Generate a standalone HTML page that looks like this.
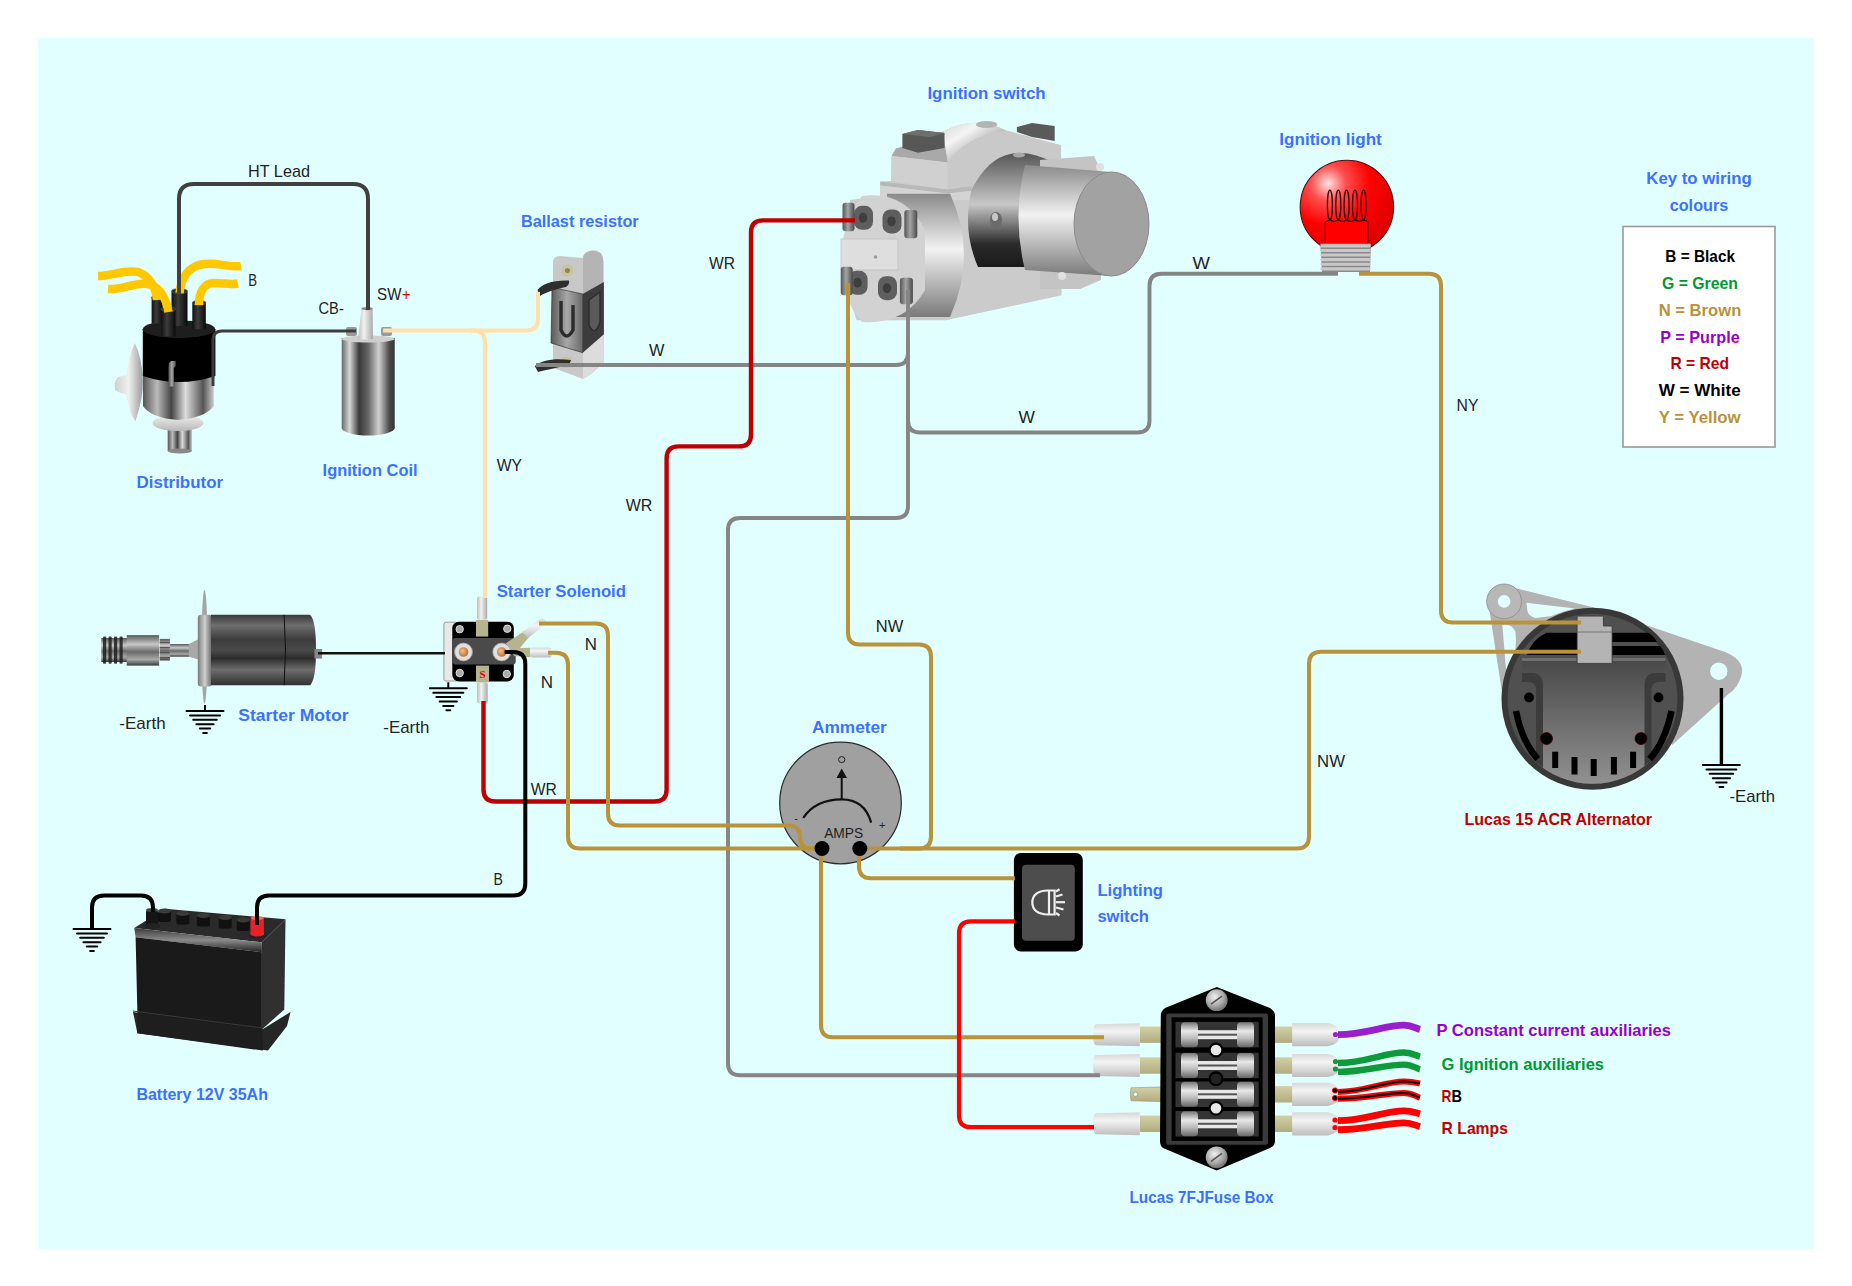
<!DOCTYPE html>
<html><head><meta charset="utf-8"><style>
html,body{margin:0;padding:0;background:#fff;width:1852px;height:1286px;overflow:hidden}
svg{display:block;font-family:"Liberation Sans",sans-serif}
</style></head><body>
<svg width="1852" height="1286" viewBox="0 0 1852 1286">
<rect x="38" y="38" width="1776" height="1211" fill="#E2FFFF"/>
<defs>
<linearGradient id="silverH" x1="0" x2="1" y1="0" y2="0">
 <stop offset="0" stop-color="#6a6a6a"/><stop offset="0.15" stop-color="#d8d8d8"/><stop offset="0.33" stop-color="#3a3a3a"/>
 <stop offset="0.5" stop-color="#666"/><stop offset="0.7" stop-color="#d0d0d0"/><stop offset="0.9" stop-color="#4a4a4a"/><stop offset="1" stop-color="#333"/>
</linearGradient>
<linearGradient id="silverH2" x1="0" x2="1" y1="0" y2="0">
 <stop offset="0" stop-color="#555"/><stop offset="0.2" stop-color="#bbb"/><stop offset="0.4" stop-color="#444"/>
 <stop offset="0.6" stop-color="#ddd"/><stop offset="0.85" stop-color="#555"/><stop offset="1" stop-color="#ccc"/>
</linearGradient>
<linearGradient id="silverV" x1="0" x2="0" y1="0" y2="1">
 <stop offset="0" stop-color="#8a8a8a"/><stop offset="0.45" stop-color="#f2f2f2"/><stop offset="1" stop-color="#7a7a7a"/>
</linearGradient>
<linearGradient id="darkV" x1="0" x2="0" y1="0" y2="1">
 <stop offset="0" stop-color="#3a3a3a"/><stop offset="0.15" stop-color="#6e6e6e"/><stop offset="0.35" stop-color="#3c3c3c"/>
 <stop offset="0.5" stop-color="#4a4a4a"/><stop offset="0.62" stop-color="#2c2c2c"/><stop offset="0.78" stop-color="#6e6e6e"/><stop offset="1" stop-color="#303030"/>
</linearGradient>
<linearGradient id="darkCyl" x1="0" x2="0" y1="0" y2="1">
 <stop offset="0" stop-color="#555"/><stop offset="0.45" stop-color="#c8c8c8"/><stop offset="0.8" stop-color="#2a2a2a"/><stop offset="1" stop-color="#1a1a1a"/>
</linearGradient>
<linearGradient id="towerG" x1="0" x2="1" y1="0" y2="0">
 <stop offset="0" stop-color="#111"/><stop offset="0.4" stop-color="#3c3c3c"/><stop offset="1" stop-color="#0a0a0a"/>
</linearGradient>
<linearGradient id="connG" x1="0" x2="0" y1="0" y2="1">
 <stop offset="0" stop-color="#d8d8d8"/><stop offset="0.35" stop-color="#f4f4f4"/><stop offset="1" stop-color="#bdbdbd"/>
</linearGradient>
<linearGradient id="connH" x1="0" x2="1" y1="0" y2="0">
 <stop offset="0" stop-color="#bbb"/><stop offset="0.4" stop-color="#f2f2f2"/><stop offset="1" stop-color="#aaa"/>
</linearGradient>
<linearGradient id="bladeG" x1="0" x2="0" y1="0" y2="1">
 <stop offset="0" stop-color="#d4d0a6"/><stop offset="1" stop-color="#b0ac80"/>
</linearGradient>
<linearGradient id="fuseCap" x1="0" x2="0" y1="0" y2="1">
 <stop offset="0" stop-color="#777"/><stop offset="0.35" stop-color="#e8e8e8"/><stop offset="0.65" stop-color="#bbb"/><stop offset="1" stop-color="#666"/>
</linearGradient>
<radialGradient id="bulbG" cx="0.3" cy="0.25" r="0.75">
 <stop offset="0" stop-color="#ffe0e0"/><stop offset="0.25" stop-color="#ff5050"/><stop offset="0.6" stop-color="#ff0000"/><stop offset="1" stop-color="#e00000"/>
</radialGradient>
<radialGradient id="copperG" cx="0.4" cy="0.4" r="0.6">
 <stop offset="0" stop-color="#f4c08a"/><stop offset="1" stop-color="#c07038"/>
</radialGradient>
<radialGradient id="screwG" cx="0.4" cy="0.35" r="0.7">
 <stop offset="0" stop-color="#f0f0f0"/><stop offset="0.6" stop-color="#a8a8a8"/><stop offset="1" stop-color="#666"/>
</radialGradient>
<linearGradient id="altInner" x1="0" x2="0" y1="0" y2="1">
 <stop offset="0" stop-color="#484848"/><stop offset="1" stop-color="#9a9a9a"/>
</linearGradient>
<linearGradient id="discG" x1="0" x2="1" y1="0" y2="0">
 <stop offset="0" stop-color="#cfcfcf"/><stop offset="0.5" stop-color="#f0f0f0"/><stop offset="1" stop-color="#9a9a9a"/>
</linearGradient>
<linearGradient id="ballastL" x1="0" x2="1" y1="0" y2="0">
 <stop offset="0" stop-color="#5a5a5a"/><stop offset="0.5" stop-color="#a8a8a8"/><stop offset="1" stop-color="#6a6a6a"/>
</linearGradient>
<linearGradient id="batTop" x1="0" x2="0" y1="0" y2="1">
 <stop offset="0" stop-color="#3a3a3a"/><stop offset="0.5" stop-color="#8a8a8a"/><stop offset="1" stop-color="#222"/>
</linearGradient>
<linearGradient id="pinionG" x1="0" x2="0" y1="0" y2="1">
 <stop offset="0" stop-color="#5a5a5a"/><stop offset="0.3" stop-color="#c8c8c8"/><stop offset="0.55" stop-color="#6a6a6a"/><stop offset="0.8" stop-color="#a8a8a8"/><stop offset="1" stop-color="#3a3a3a"/>
</linearGradient>
<linearGradient id="flangeG" x1="0" x2="1" y1="0" y2="0">
 <stop offset="0" stop-color="#7a7a7a"/><stop offset="0.5" stop-color="#cfcfcf"/><stop offset="1" stop-color="#6a6a6a"/>
</linearGradient>
<linearGradient id="shoulderG" x1="0" x2="1" y1="0" y2="1">
 <stop offset="0" stop-color="#d8d8d8"/><stop offset="0.3" stop-color="#f4f4f4"/><stop offset="0.7" stop-color="#a8a8a8"/><stop offset="1" stop-color="#9a9a9a"/>
</linearGradient>
<linearGradient id="tabG" x1="0" x2="1" y1="0" y2="0">
 <stop offset="0" stop-color="#555"/><stop offset="0.45" stop-color="#a4a4a4"/><stop offset="1" stop-color="#4a4a4a"/>
</linearGradient>
<linearGradient id="skirtG" x1="0" x2="0" y1="0" y2="1">
 <stop offset="0" stop-color="#f0f0f0"/><stop offset="1" stop-color="#b8b8b8"/>
</linearGradient>
</defs>
<g><path d="M134.8 343.1 Q128 358 126.5 375 L118 377 Q113.5 382 115 390 Q120 393.5 126.5 394.5 Q128 410 135.3 421.5 Q143.5 398 142.8 380 Q142 358 134.8 343.1 Z" fill="url(#discG)"/><rect x="167.7" y="426" width="24.3" height="25" fill="url(#silverH2)"/><ellipse cx="179.8" cy="451" rx="12.1" ry="2.5" fill="#888"/><ellipse cx="178" cy="423" rx="25.5" ry="8" fill="url(#skirtG)"/><path d="M143 372 L213.8 372 L213.8 406 Q205 418 178 420 Q151 418 143 406 Z" fill="url(#silverH2)"/><path d="M142.8 329 L215.4 329 L215.4 376 Q179 388 142.8 376 Z" fill="#000"/><ellipse cx="179" cy="329.2" rx="36.3" ry="8.8" fill="#1e1e1e"/><path d="M168.5 386.6 L168.5 367 Q168.5 361 172 361 L175.8 361 L175.8 366 L173.8 368 L173.8 386.6 Z" fill="url(#tabG)"/><rect x="151.6" y="297.3" width="11.2" height="26.3" fill="url(#towerG)"/><ellipse cx="157.2" cy="297.3" rx="5.6" ry="2.5" fill="#2a2a2a" stroke="#666" stroke-width="0.6"/><rect x="171.5" y="290.9" width="16.0" height="35.1" fill="url(#towerG)"/><ellipse cx="179.5" cy="290.9" rx="8.0" ry="2.5" fill="#2a2a2a" stroke="#666" stroke-width="0.6"/><rect x="192.3" y="302.8" width="13.5" height="26.4" fill="url(#towerG)"/><ellipse cx="199.1" cy="302.8" rx="6.8" ry="2.5" fill="#2a2a2a" stroke="#666" stroke-width="0.6"/><rect x="161.2" y="309.2" width="14.3" height="27.1" fill="url(#towerG)"/><ellipse cx="168.3" cy="309.2" rx="7.2" ry="2.5" fill="#2a2a2a" stroke="#666" stroke-width="0.6"/></g>
<g><rect x="341.7" y="338" width="53" height="90" fill="url(#silverH)"/><ellipse cx="368.2" cy="428" rx="26.5" ry="7.5" fill="url(#silverH)"/><ellipse cx="368.2" cy="339" rx="26.5" ry="3.5" fill="#cfcfcf"/><rect x="346" y="327" width="11" height="9" rx="2" fill="#9a9a9a"/><rect x="381" y="327" width="11" height="9" rx="2" fill="#9a9a9a"/><path d="M361.5 308.4 L372.6 308.4 L373 339.3 L358 339.3 Z" fill="url(#connH)"/><ellipse cx="367" cy="308.6" rx="5.6" ry="1.6" fill="#888"/></g>
<g><path d="M553 262 Q553 256 560 256 L583 258 L583 379 Q570 374 553 368 Z" fill="#c8c8c8"/><path d="M583 258 Q583 252 592 250.5 Q603.5 250 603.5 262 L603.5 362 Q595 372 583 379 Z" fill="#b4b4b4"/><path d="M583 352 L603.5 334 L603.5 362 Q595 372 583 379 Z" fill="#dcdcdc"/><path d="M552 287.4 L582.7 294 L582.7 352.7 L551 343 Z" fill="url(#ballastL)" stroke="#222" stroke-width="0.6"/><path d="M582.7 294 L603.9 282 L603.9 334.2 L582.7 352.7 Z" fill="#3c3c3c"/><path d="M561 301 L561 330 Q566.5 342 573 330 L573 305" fill="none" stroke="#2c2c2c" stroke-width="3.4"/><path d="M589 300 L589 325 Q595 338 600 322 L600 292 Z" fill="#5a5a5a" stroke="#2c2c2c" stroke-width="1.4"/><circle cx="567.4" cy="270.6" r="6" fill="#c8c49a"/><circle cx="567.4" cy="270.6" r="2.5" fill="#8a8660"/><path d="M537.5 290 C542 284 552 280 569 280.5 Q570 284 566 287 C556 289 546 292 540 296 Z" fill="#2e2e2e"/><rect x="562" y="357" width="10" height="11" fill="#c8c49a"/><path d="M534.8 366 C542 360 554 358 571 360 L569 365 C556 368 545 370 538 372 Z" fill="#2e2e2e"/></g>
<g><path d="M850 200 L880.3 196 L880.3 181.4 L891 181 L891.6 156 L896 148.5 L943.4 131.2 Q975 115 1005 130 L1061 145.2 L1061.6 295.3 L945.8 320.3 L856.7 320.3 L850 300 Z" fill="#cbcbcb"/><path d="M896 148.5 L944 138 L947.8 162.5 L891.6 156 Z" fill="#a9a9a9"/><path d="M891.6 156 L947.8 162.5 L947.8 189.5 L891 180.9 Z" fill="#d0d0d0"/><path d="M943.4 131.2 Q975 115 1005 130 L1005 131.2 Q968 140 947.8 162.5 L944 138 Z" fill="url(#shoulderG)"/><ellipse cx="986.6" cy="124.5" rx="10.8" ry="3.6" fill="#b4b4b4"/><path d="M947.8 162.5 Q965 136 1005 131.2 L1061 145.2 L1061 161.4 L1053.6 162.5 Q1030 150 1010.4 153.9 Q988 158 971.5 189.5 L947.8 189.5 Z" fill="#c9c9c9"/><path d="M880.3 181.4 L947.8 189.5 L971.5 186.3 L971.5 190.5 L947.8 193.5 L880.3 185.5 Z" fill="#b8b8b8"/><path d="M880.3 185.5 L947.8 193.5 L972 191 L972 200 L880.3 200 Z" fill="#d4d4d4"/><path d="M902.4 134 L918 130 L944.5 133 L944.5 148 L918 152.8 L902.4 148 Z" fill="#575757"/><path d="M902.4 134 L918 130 L944.5 133 L930 137 Z" fill="#6e6e6e"/><path d="M1016.9 127 L1032 123 L1054.7 126 L1054.7 141 L1032 137 L1016.9 132 Z" fill="#5a5a5a"/><path d="M971.5 189.5 Q988 158 1010.4 153.9 Q1030 150 1053.6 162.5 L1052 267 L978 267 Q962 230 971.5 189.5 Z" fill="url(#darkCyl)"/><ellipse cx="1019" cy="155" rx="6" ry="2.5" fill="#a8a8a8"/><ellipse cx="996" cy="220" rx="6" ry="8" fill="#6a6a6a"/><ellipse cx="995" cy="217" rx="3" ry="4" fill="#c8c8c8"/><path d="M1040 160 L1094 156 L1101 171 L1101 280 L1080 289 L1040 289 Z" fill="#c4c4c4"/><path d="M1025 165 L1111 172 L1111 276 L1025 270 Q1012 218 1025 165 Z" fill="url(#silverV)"/><ellipse cx="1111.5" cy="224" rx="37.5" ry="52" fill="#a2a2a2" stroke="#8a8a8a" stroke-width="1"/><circle cx="1100" cy="167" r="4" fill="#e0e0e0"/><circle cx="1062" cy="276" r="4" fill="#e0e0e0"/><path d="M887 193.7 L950 193.7 Q978 254 950 317 L887 317 Z" fill="url(#silverV)"/><path d="M862 196 Q905 190 925 230 L925 290 Q905 325 862 322 Q842 300 841 262 Q842 220 862 196 Z" fill="#d2d2d2"/><rect x="841" y="239" width="57" height="31" fill="#dedede" stroke="#c0c0c0" stroke-width="0.8"/><circle cx="875.5" cy="257" r="1.8" fill="#999"/><rect x="854.0" y="205.8" width="19" height="24" rx="8" fill="#5e5e5e"/><ellipse cx="863.0" cy="217.8" rx="4.2" ry="5" fill="#3e3e3e"/><rect x="842.5" y="202.7" width="12" height="28.5" rx="3" fill="url(#tabG)"/><rect x="882.5" y="209.4" width="19" height="24" rx="8" fill="#5e5e5e"/><ellipse cx="891.5" cy="221.4" rx="4.2" ry="5" fill="#3e3e3e"/><rect x="904.3" y="210.0" width="13" height="28.3" rx="3" fill="url(#tabG)"/><rect x="848.6" y="270.8" width="19" height="24" rx="8" fill="#5e5e5e"/><ellipse cx="857.6" cy="282.8" rx="4.2" ry="5" fill="#3e3e3e"/><rect x="840.7" y="266.8" width="12" height="28.5" rx="3" fill="url(#tabG)"/><rect x="878.0" y="276.2" width="19" height="24" rx="8" fill="#5e5e5e"/><ellipse cx="887.0" cy="288.2" rx="4.2" ry="5" fill="#3e3e3e"/><rect x="899.9" y="277.7" width="13" height="26.5" rx="3" fill="url(#tabG)"/></g>
<g><circle cx="1346.9" cy="206.9" r="46.7" fill="url(#bulbG)" stroke="#4a1010" stroke-width="1.1"/><path d="M1325.4 243 L1325.4 222 Q1328 220.5 1330 219.8 Q1334 223 1338.3 219.8 Q1342.5 223 1346.6 219.8 Q1350.8 223 1355 219.8 Q1359.3 223 1363.6 219.8 Q1366 220.5 1367.8 222 L1367.8 243" fill="#ff0000" stroke="#3a0a0a" stroke-width="1.2"/><ellipse cx="1329.9" cy="205" rx="2.5" ry="14.8" fill="none" stroke="#3a0a0a" stroke-width="1.3"/><ellipse cx="1338.3" cy="205" rx="2.5" ry="14.8" fill="none" stroke="#3a0a0a" stroke-width="1.3"/><ellipse cx="1346.6" cy="205" rx="2.5" ry="14.8" fill="none" stroke="#3a0a0a" stroke-width="1.3"/><ellipse cx="1355.0" cy="205" rx="2.5" ry="14.8" fill="none" stroke="#3a0a0a" stroke-width="1.3"/><ellipse cx="1363.6" cy="205" rx="2.5" ry="14.8" fill="none" stroke="#3a0a0a" stroke-width="1.3"/><path d="M1320.3 243.5 L1370.9 243.5 L1370 272 L1322 272 Z" fill="#8a8a8a"/><rect x="1320.5" y="244.3" width="50" height="3.1" rx="1.2" fill="#c8c8c8"/><rect x="1320.5" y="248.9" width="50" height="3.1" rx="1.2" fill="#c8c8c8"/><rect x="1320.5" y="253.5" width="50" height="3.1" rx="1.2" fill="#c8c8c8"/><rect x="1320.5" y="258.1" width="50" height="3.1" rx="1.2" fill="#c8c8c8"/><rect x="1320.5" y="262.7" width="50" height="3.1" rx="1.2" fill="#c8c8c8"/><rect x="1320.5" y="267.3" width="50" height="3.1" rx="1.2" fill="#c8c8c8"/></g>
<g><rect x="101.3" y="638" width="26" height="24" fill="url(#pinionG)"/><rect x="103.0" y="636.4" width="3.2" height="27.3" rx="1" fill="#1e1e1e" opacity="0.85"/><rect x="108.5" y="636.4" width="3.2" height="27.3" rx="1" fill="#1e1e1e" opacity="0.85"/><rect x="114.0" y="636.4" width="3.2" height="27.3" rx="1" fill="#1e1e1e" opacity="0.85"/><rect x="119.5" y="636.4" width="3.2" height="27.3" rx="1" fill="#1e1e1e" opacity="0.85"/><rect x="126.7" y="635.1" width="32.4" height="30.5" fill="url(#pinionG)"/><rect x="159.7" y="638.9" width="10.2" height="21.6" fill="url(#pinionG)"/><rect x="159.7" y="642.0" width="10.2" height="1.2" fill="#555"/><rect x="159.7" y="647.0" width="10.2" height="1.2" fill="#555"/><rect x="159.7" y="652.0" width="10.2" height="1.2" fill="#555"/><rect x="159.7" y="657.0" width="10.2" height="1.2" fill="#555"/><rect x="169.9" y="644" width="19.6" height="12.7" fill="url(#pinionG)"/><path d="M188.9 644 L200.3 638.3 L200.3 659.9 L188.9 656.7 Z" fill="#a8a8a8"/><ellipse cx="204.5" cy="646.8" rx="3" ry="56.8" fill="#a4a4a4"/><rect x="197.8" y="614.8" width="13.9" height="71.7" rx="3" fill="url(#flangeG)"/><path d="M211 614.8 L310 614.8 Q316 620 316 650 Q316 680 310 685.2 L211 685.2 Z" fill="url(#darkV)"/><path d="M284.1 614.8 Q287 650 284.1 685.2" fill="none" stroke="#111" stroke-width="1"/><rect x="314.5" y="649" width="7.6" height="9.6" fill="#888"/></g>
<g><rect x="477" y="596.5" width="10.2" height="23" rx="2" fill="url(#connH)"/><rect x="477" y="682.4" width="10.7" height="21" rx="2" fill="url(#connH)"/><rect x="443.9" y="622.2" width="14" height="58.8" rx="2" fill="#e8e8e8" stroke="#888" stroke-width="0.8"/><rect x="452.3" y="621.7" width="61.5" height="59.7" rx="6.5" fill="#000"/><rect x="452.7" y="638" width="63" height="26.6" rx="3" fill="#4a4a4a"/><path d="M505.9 643.2 L524.6 631 L529 637 L520 648 L530.1 647.8 L530.1 657.2 L514.3 656 Z" fill="#b5b48e"/><path d="M522 632 L540 619 Q546 618 546 624 L528 638 Z" fill="url(#connG)"/><rect x="530.1" y="647.4" width="21.5" height="10.2" rx="2" fill="url(#connG)"/><rect x="476" y="619.9" width="12.2" height="16.7" fill="#b5b48e"/><rect x="476" y="665.6" width="13.1" height="16.8" fill="#b5b48e"/><text x="482.6" y="678" font-family="Liberation Serif" font-size="11" font-weight="bold" fill="#e00000" text-anchor="middle">S</text><circle cx="463.5" cy="652" r="8.9" fill="#e0e0e0" stroke="#aaa" stroke-width="0.8"/><circle cx="463.5" cy="652" r="4.8" fill="url(#copperG)"/><circle cx="501.7" cy="652" r="8.9" fill="#e0e0e0" stroke="#aaa" stroke-width="0.8"/><circle cx="501.7" cy="652" r="4.8" fill="url(#copperG)"/><circle cx="459.7" cy="629.2" r="3.7" fill="#aaa" stroke="#ddd" stroke-width="1"/><circle cx="507.3" cy="628.7" r="3.7" fill="#aaa" stroke="#ddd" stroke-width="1"/><circle cx="459.7" cy="673.0" r="3.7" fill="#aaa" stroke="#ddd" stroke-width="1"/><circle cx="506.8" cy="674.0" r="3.7" fill="#aaa" stroke="#ddd" stroke-width="1"/></g>
<g><path d="M133 1012 L263 1029 L290.5 1012 L287 1026 L268 1050.6 L137.4 1033.2 Z" fill="#262626"/><path d="M261.9 942.3 L285.5 919.3 L284.3 1009.5 L261.9 1029.4 Z" fill="#303030"/><path d="M134.3 928 L164.8 908.7 L285.5 919.3 L261.9 942.3 Z" fill="#2a2a2a"/><path d="M134.3 928 L261.9 942.3 L261.9 952.3 L135.6 937.3 Z" fill="url(#batTop)"/><path d="M135.6 937.3 L261.9 952.3 L261.9 1029.4 L137.4 1013.3 Z" fill="#1a1a1a"/><path d="M137.4 1013.3 L261.9 1029.4 L263 1050.6 L137.4 1033.2 Z" fill="#1e1e1e"/><path d="M133 1011 L262 1028" stroke="#3a3a3a" stroke-width="1"/><rect x="158.0" y="911.0" width="13" height="11" rx="2" fill="#111"/><ellipse cx="164.5" cy="911.0" rx="6.5" ry="2.5" fill="#3a3a3a"/><rect x="176.4" y="913.5" width="13" height="11" rx="2" fill="#111"/><ellipse cx="182.9" cy="913.5" rx="6.5" ry="2.5" fill="#3a3a3a"/><rect x="196.9" y="915.5" width="13" height="11" rx="2" fill="#111"/><ellipse cx="203.4" cy="915.5" rx="6.5" ry="2.5" fill="#3a3a3a"/><rect x="218.7" y="917.5" width="13" height="11" rx="2" fill="#111"/><ellipse cx="225.2" cy="917.5" rx="6.5" ry="2.5" fill="#3a3a3a"/><rect x="236.7" y="920.0" width="13" height="11" rx="2" fill="#111"/><ellipse cx="243.2" cy="920.0" rx="6.5" ry="2.5" fill="#3a3a3a"/><rect x="146" y="910" width="12" height="16" rx="2" fill="#151515"/><ellipse cx="152" cy="926" rx="8" ry="3" fill="#222"/><ellipse cx="152" cy="910" rx="6" ry="2" fill="#444"/><ellipse cx="257.3" cy="935.5" rx="8.5" ry="3" fill="#222"/><path d="M250.7 918 L263.8 918 L264 935 Q257 938 250.5 935 Z" fill="#e8202a"/><ellipse cx="257.3" cy="918" rx="6.5" ry="2" fill="#ff6060"/></g>
<g><circle cx="840.5" cy="803" r="60.8" fill="#a0a0a0" stroke="#2a2a2a" stroke-width="1.2"/><path d="M803.2 817.9 C812 805 826 799.4 841.7 799.4 C857 799.4 867 808 871.1 822.6" fill="none" stroke="#111" stroke-width="2.2"/><line x1="841.7" y1="800" x2="841.7" y2="776" stroke="#111" stroke-width="2"/><path d="M836.5 778 L841.7 768.5 L847 778 Z" fill="#111"/><ellipse cx="841.7" cy="759.6" rx="3.2" ry="3" fill="none" stroke="#222" stroke-width="1"/><text x="796" y="822" font-size="11" fill="#222" text-anchor="middle">-</text><text x="882.2" y="828.5" font-size="11" fill="#222" text-anchor="middle">+</text><text x="824.2" y="838.2" font-size="14.5" fill="#222" textLength="39" lengthAdjust="spacingAndGlyphs">AMPS</text></g>
<g><rect x="1013.9" y="853" width="68.9" height="98.4" rx="7" fill="#000"/><rect x="1022" y="864.7" width="52.8" height="76" rx="4" fill="#4d4d4d"/><path d="M1054.6 890.5 L1048 890.5 Q1032.5 891 1032.3 902.5 Q1032.5 914 1048 914.5 L1054.6 914.5 Z" fill="none" stroke="#eee" stroke-width="2.2"/><line x1="1049" y1="890.5" x2="1049" y2="914.5" stroke="#eee" stroke-width="2.2"/><line x1="1056.0" y1="891.5" x2="1059.5" y2="889.3" stroke="#eee" stroke-width="2.2"/><line x1="1056.0" y1="896.5" x2="1062.5" y2="894.5" stroke="#eee" stroke-width="2.2"/><line x1="1056.0" y1="902.2" x2="1065.0" y2="902.2" stroke="#eee" stroke-width="2.2"/><line x1="1056.0" y1="907.5" x2="1063.5" y2="909.5" stroke="#eee" stroke-width="2.2"/><line x1="1056.0" y1="913.0" x2="1059.5" y2="915.5" stroke="#eee" stroke-width="2.2"/></g>
<g><rect x="1139.8" y="1026.5" width="26.4" height="16.4" fill="url(#bladeG)"/><path d="M1096 1024.2 L1139.8 1023.2 L1139.8 1046.2 L1096 1045.2 Q1093 1044.7 1093 1034.7 Q1093 1024.7 1096 1024.2 Z" fill="url(#connG)"/><rect x="1139.8" y="1057.3" width="26.4" height="16.4" fill="url(#bladeG)"/><path d="M1096 1055.0 L1139.8 1054.0 L1139.8 1077.0 L1096 1076.0 Q1093 1075.5 1093 1065.5 Q1093 1055.5 1096 1055.0 Z" fill="url(#connG)"/><path d="M1131 1087.8 L1166 1086.8 L1166 1101.8 L1131 1100.8 Q1129.5 1094.3 1131 1087.8 Z" fill="url(#bladeG)" stroke="#8a8660" stroke-width="0.5"/><circle cx="1135.5" cy="1094.3" r="2.2" fill="#E2FFFF" stroke="#8a8660" stroke-width="0.6"/><rect x="1139.8" y="1115.6" width="26.4" height="16.4" fill="url(#bladeG)"/><path d="M1096 1113.3 L1139.8 1112.3 L1139.8 1135.3 L1096 1134.3 Q1093 1133.8 1093 1123.8 Q1093 1113.8 1096 1113.3 Z" fill="url(#connG)"/><rect x="1268" y="1026.5" width="25" height="16.4" fill="url(#bladeG)"/><path d="M1292.1 1023.1 L1328 1023.1 Q1338.8 1025.7 1338.8 1030.7 L1338.8 1038.7 Q1338.8 1043.7 1328 1046.3 L1292.1 1046.3 Z" fill="url(#connG)"/><rect x="1268" y="1057.3" width="25" height="16.4" fill="url(#bladeG)"/><path d="M1292.1 1053.9 L1328 1053.9 Q1338.8 1056.5 1338.8 1061.5 L1338.8 1069.5 Q1338.8 1074.5 1328 1077.1 L1292.1 1077.1 Z" fill="url(#connG)"/><rect x="1268" y="1086.1" width="25" height="16.4" fill="url(#bladeG)"/><path d="M1292.1 1082.7 L1328 1082.7 Q1338.8 1085.3 1338.8 1090.3 L1338.8 1098.3 Q1338.8 1103.3 1328 1105.9 L1292.1 1105.9 Z" fill="url(#connG)"/><rect x="1268" y="1115.6" width="25" height="16.4" fill="url(#bladeG)"/><path d="M1292.1 1112.2 L1328 1112.2 Q1338.8 1114.8 1338.8 1119.8 L1338.8 1127.8 Q1338.8 1132.8 1328 1135.4 L1292.1 1135.4 Z" fill="url(#connG)"/><circle cx="1335.5" cy="1034.5" r="2.6" fill="#9A1FCC"/><circle cx="1335.5" cy="1061.5" r="2.6" fill="#0E9A3A"/><circle cx="1335.5" cy="1069" r="2.6" fill="#0E9A3A"/><circle cx="1335" cy="1090.5" r="2.6" fill="#000" stroke="#f00" stroke-width="1"/><circle cx="1335" cy="1098" r="2.6" fill="#000" stroke="#f00" stroke-width="1"/><circle cx="1335" cy="1120" r="2.6" fill="#f00"/><circle cx="1335" cy="1127.5" r="2.6" fill="#f00"/><path d="M1216.7 987 L1270 1008 Q1275 1011 1275 1016 L1275 1141 Q1275 1146 1270 1148 L1216.7 1170.5 L1163 1148 Q1160 1146 1160 1141 L1160.8 1016 Q1160.8 1011 1165 1008 Z" fill="#000"/><rect x="1166.2" y="1013.4" width="101.8" height="131.4" rx="2" fill="#3a3a3a"/><rect x="1171.6" y="1017.3" width="91" height="123.6" fill="#000"/><rect x="1175.5" y="1021.9" width="83.2" height="25.5" fill="#343434"/><rect x="1190" y="1030.2" width="55" height="9" fill="#e8e8e8"/><rect x="1190" y="1033.7" width="55" height="2" fill="#555"/><rect x="1181" y="1022.2" width="17" height="25" rx="4" fill="url(#fuseCap)"/><rect x="1237" y="1022.2" width="17" height="25" rx="4" fill="url(#fuseCap)"/><rect x="1175.5" y="1052.7" width="83.2" height="25.5" fill="#343434"/><rect x="1190" y="1061.0" width="55" height="9" fill="#e8e8e8"/><rect x="1190" y="1064.5" width="55" height="2" fill="#555"/><rect x="1181" y="1053.0" width="17" height="25" rx="4" fill="url(#fuseCap)"/><rect x="1237" y="1053.0" width="17" height="25" rx="4" fill="url(#fuseCap)"/><rect x="1175.5" y="1081.5" width="83.2" height="25.5" fill="#343434"/><rect x="1190" y="1089.8" width="55" height="9" fill="#e8e8e8"/><rect x="1190" y="1093.3" width="55" height="2" fill="#555"/><rect x="1181" y="1081.8" width="17" height="25" rx="4" fill="url(#fuseCap)"/><rect x="1237" y="1081.8" width="17" height="25" rx="4" fill="url(#fuseCap)"/><rect x="1175.5" y="1111.0" width="83.2" height="25.5" fill="#343434"/><rect x="1190" y="1119.3" width="55" height="9" fill="#e8e8e8"/><rect x="1190" y="1122.8" width="55" height="2" fill="#555"/><rect x="1181" y="1111.3" width="17" height="25" rx="4" fill="url(#fuseCap)"/><rect x="1237" y="1111.3" width="17" height="25" rx="4" fill="url(#fuseCap)"/><circle cx="1216" cy="1050.0" r="7.5" fill="#000"/><circle cx="1216" cy="1050.0" r="5.3" fill="#e8e8e8"/><circle cx="1216" cy="1078.7" r="7.5" fill="#000"/><circle cx="1216" cy="1078.7" r="5.3" fill="#222"/><circle cx="1216" cy="1108.3" r="7.5" fill="#000"/><circle cx="1216" cy="1108.3" r="5.3" fill="#e8e8e8"/><circle cx="1216.7" cy="1000.2" r="10.9" fill="url(#screwG)"/><line x1="1211" y1="1004.2" x2="1222" y2="996.2" stroke="#555" stroke-width="1.6"/><circle cx="1216.7" cy="1157.3" r="10.9" fill="url(#screwG)"/><line x1="1211" y1="1161.3" x2="1222" y2="1153.3" stroke="#555" stroke-width="1.6"/></g>
<g><path d="M1504.5 583.7 L1516.7 588.4 L1592 607 L1648 625.7 L1725 652 Q1745 660 1741.6 675 Q1738 688 1728.5 694 L1672.5 744.7 L1592 700 L1501.5 689.5 L1489.8 612.6 Q1490 590 1504.5 583.7 Z" fill="#b3b3b3"/><circle cx="1504.1" cy="601.4" r="17.4" fill="#b8b8b8" stroke="#8a8a8a" stroke-width="0.8"/><circle cx="1504.1" cy="601.4" r="6.3" fill="#E2FFFF"/><path d="M1526.5 602.7 L1574.8 608.5 Q1560 612 1551.6 616.1 L1535.5 618 Q1528 616 1527.4 610.8 Z" fill="#E2FFFF"/><path d="M1502.4 625 Q1512 623 1515.5 632 Q1517 648 1513 658 L1506 669.8 Z" fill="#E2FFFF"/><circle cx="1718.8" cy="671.2" r="8.7" fill="#E2FFFF"/><circle cx="1592.5" cy="698.8" r="91" fill="#383838"/><circle cx="1592.5" cy="698.8" r="85" fill="#505050"/><path d="M1527 655 Q1531 640 1546.5 632.7 L1580 632.7 L1580 655 Z" fill="#000"/><path d="M1610 632.7 L1648 632.7 Q1654 636 1657 642 L1610 642 Z" fill="#000"/><path d="M1610 646 L1660 646 Q1664 650 1665 655 L1610 655 Z" fill="#000"/><clipPath id="altClip"><circle cx="1592.5" cy="698.8" r="85"/></clipPath><g clip-path="url(#altClip)"><path d="M1522 659 L1665.5 659 L1665.5 675 L1648 684 L1648 800 L1537 800 L1537 684 L1522 675 Z" fill="url(#altInner)"/><rect x="1522" y="658" width="143.5" height="3" fill="#6e6e6e"/><path d="M1522 673 L1532 673 Q1543 673 1543 686 L1543 780 L1536 780 L1536 690 Q1536 682 1528 682 L1522 682 Z" fill="#3c3c3c"/><path d="M1665.5 673 L1655.5 673 Q1644.5 673 1644.5 686 L1644.5 780 L1651.5 780 L1651.5 690 Q1651.5 682 1659.5 682 L1665.5 682 Z" fill="#3c3c3c"/></g><path d="M1577.1 616.1 L1603.4 616.1 L1603.4 626 L1612.1 626 L1612.1 663.4 L1577.1 663.4 Z" fill="#b4b4b4" stroke="#333" stroke-width="0.8"/><line x1="1577" y1="632" x2="1612" y2="632" stroke="#666" stroke-width="0.8"/><circle cx="1529" cy="697.5" r="4.9" fill="#000"/><circle cx="1658.5" cy="697.5" r="4.9" fill="#000"/><circle cx="1546.5" cy="738.6" r="6" fill="#000" stroke="#3a0000" stroke-width="0.8"/><circle cx="1641" cy="738.6" r="6" fill="#000" stroke="#3a0000" stroke-width="0.8"/><path d="M1516 711 Q1522 742 1537.7 759" fill="none" stroke="#000" stroke-width="6.5"/><path d="M1671.5 711 Q1665 742 1649.7 759" fill="none" stroke="#000" stroke-width="6.5"/><rect x="1552.2" y="751.7" width="6" height="16.3" fill="#000"/><rect x="1571.5" y="757.0" width="6" height="17.5" fill="#000"/><rect x="1590.7" y="759.0" width="6" height="17.0" fill="#000"/><rect x="1610.9" y="757.0" width="6" height="17.5" fill="#000"/><rect x="1630.1" y="751.7" width="6" height="16.3" fill="#000"/></g>
<g fill="none" stroke="#FFC800" stroke-width="8.5" stroke-linecap="butt"><path d="M157 300 C156 288 150 276 138 272 C125 269 112 276 98 276"/><path d="M168.5 312 C166 298 160 287 148 284 C135 282 122 290 108 289"/><path d="M179.5 293 C181 278 188 266 204 264 C218 262 230 268 241 266"/><path d="M199 305 C199 292 204 283 214 283 C224 283 230 285 238 283.5"/></g>
<path d="M179.0 293.0 L179.0 199.0 Q179.0 184.0 194.0 184.0 L353.0 184.0 Q368.0 184.0 368.0 199.0 L368.0 310.0" fill="none" stroke="#404040" stroke-width="4" stroke-linecap="butt" stroke-linejoin="round"/>
<path d="M213.0 386.0 L213.0 340.0 Q213.0 331.0 222.0 331.0 L356.0 331.0" fill="none" stroke="#3c3c3c" stroke-width="3" stroke-linecap="butt" stroke-linejoin="round"/>
<path d="M383.0 330.5 L473.0 330.5 Q485.0 330.5 485.0 342.5 L485.0 598.0" fill="none" stroke="#FFDFAA" stroke-width="4" stroke-linecap="butt" stroke-linejoin="round"/>
<path d="M470.0 330.5 L526.0 330.5 Q538.0 330.5 538.0 318.5 L538.0 292.0" fill="none" stroke="#FFDFAA" stroke-width="4" stroke-linecap="butt" stroke-linejoin="round"/>
<path d="M908.0 290.0 L908.0 506.0 Q908.0 518.0 896.0 518.0 L740.0 518.0 Q728.0 518.0 728.0 530.0 L728.0 1063.3 Q728.0 1075.3 740.0 1075.3 L1100.0 1075.3" fill="none" stroke="#858585" stroke-width="3.9" stroke-linecap="butt" stroke-linejoin="round"/>
<path d="M536.0 365.0 L896.0 365.0 Q908.0 365.0 908.0 353.0 L908.0 340.0" fill="none" stroke="#858585" stroke-width="3.9" stroke-linecap="butt" stroke-linejoin="round"/>
<path d="M908.0 400.0 L908.0 420.5 Q908.0 432.5 920.0 432.5 L1137.5 432.5 Q1149.5 432.5 1149.5 420.5 L1149.5 285.7 Q1149.5 273.7 1161.5 273.7 L1338.0 273.7" fill="none" stroke="#858585" stroke-width="3.9" stroke-linecap="butt" stroke-linejoin="round"/>
<path d="M855.0 220.4 L763.0 220.4 Q751.0 220.4 751.0 232.4 L751.0 434.4 Q751.0 446.4 739.0 446.4 L678.6 446.4 Q666.6 446.4 666.6 458.4 L666.6 789.5 Q666.6 801.5 654.6 801.5 L495.5 801.5 Q483.5 801.5 483.5 789.5 L483.5 701.0" fill="none" stroke="#C00000" stroke-width="4.4" stroke-linecap="butt" stroke-linejoin="round"/>
<path d="M848.0 283.0 L848.0 632.5 Q848.0 644.5 860.0 644.5 L919.0 644.5 Q931.0 644.5 931.0 656.5 L931.0 836.5 Q931.0 848.5 919.0 848.5 L900.0 848.5" fill="none" stroke="#B9933A" stroke-width="4" stroke-linecap="butt" stroke-linejoin="round"/>
<path d="M860.0 848.5 L1297.0 848.5 Q1309.0 848.5 1309.0 836.5 L1309.0 663.8 Q1309.0 651.8 1321.0 651.8 L1581.0 651.8" fill="none" stroke="#B9933A" stroke-width="4" stroke-linecap="butt" stroke-linejoin="round"/>
<path d="M1359.0 273.7 L1429.0 273.7 Q1441.0 273.7 1441.0 285.7 L1441.0 610.6 Q1441.0 622.6 1453.0 622.6 L1581.0 622.6" fill="none" stroke="#B9933A" stroke-width="4" stroke-linecap="butt" stroke-linejoin="round"/>
<path d="M539.0 623.6 L596.0 623.6 Q608.0 623.6 608.0 635.6 L608.0 813.5 Q608.0 825.5 620.0 825.5 L788.5 825.5 Q800.0 825.5 800.0 837.0 L800.0 837.0 Q800.0 848.5 811.5 848.5 L822.0 848.5" fill="none" stroke="#B9933A" stroke-width="4" stroke-linecap="butt" stroke-linejoin="round"/>
<path d="M548.0 652.7 L556.0 652.7 Q568.0 652.7 568.0 664.7 L568.0 836.5 Q568.0 848.5 580.0 848.5 L822.0 848.5" fill="none" stroke="#B9933A" stroke-width="4" stroke-linecap="butt" stroke-linejoin="round"/>
<path d="M821.0 848.5 L821.0 1025.2 Q821.0 1037.2 833.0 1037.2 L1104.0 1037.2" fill="none" stroke="#B9933A" stroke-width="4" stroke-linecap="butt" stroke-linejoin="round"/>
<path d="M859.0 848.5 L859.0 866.2 Q859.0 878.2 871.0 878.2 L1015.0 878.2" fill="none" stroke="#B9933A" stroke-width="4" stroke-linecap="butt" stroke-linejoin="round"/>
<path d="M1015.0 921.4 L971.0 921.4 Q959.0 921.4 959.0 933.4 L959.0 1115.2 Q959.0 1127.2 971.0 1127.2 L1094.0 1127.2" fill="none" stroke="#FF0000" stroke-width="4.2" stroke-linecap="butt" stroke-linejoin="round"/>
<path d="M504.6 652.0 L513.3 652.0 Q525.3 652.0 525.3 664.0 L525.3 883.6 Q525.3 895.6 513.3 895.6 L269.0 895.6 Q257.0 895.6 257.0 907.6 L257.0 925.0" fill="none" stroke="#000" stroke-width="4" stroke-linecap="butt" stroke-linejoin="round"/>
<path d="M153.0 912.0 L153.0 907.6 Q153.0 895.6 141.0 895.6 L104.0 895.6 Q92.0 895.6 92.0 907.6 L92.0 929.0" fill="none" stroke="#000" stroke-width="4" stroke-linecap="butt" stroke-linejoin="round"/>
<path d="M318.0 653.2 L445.0 653.2" fill="none" stroke="#111" stroke-width="2.6" stroke-linecap="butt" stroke-linejoin="round"/>
<path d="M1721.4 688.0 L1721.4 765.0" fill="none" stroke="#000" stroke-width="3.4" stroke-linecap="butt" stroke-linejoin="round"/>
<line x1="205.0" y1="705.0" x2="205.0" y2="711.0" stroke="#000" stroke-width="2"/><line x1="186.5" y1="711.0" x2="223.5" y2="711.0" stroke="#000" stroke-width="2" stroke-linecap="round"/><line x1="190.0" y1="715.4" x2="220.0" y2="715.4" stroke="#000" stroke-width="2" stroke-linecap="round"/><line x1="193.2" y1="719.8" x2="216.8" y2="719.8" stroke="#000" stroke-width="2" stroke-linecap="round"/><line x1="196.4" y1="724.2" x2="213.6" y2="724.2" stroke="#000" stroke-width="2" stroke-linecap="round"/><line x1="199.8" y1="728.6" x2="210.2" y2="728.6" stroke="#000" stroke-width="2" stroke-linecap="round"/><line x1="203.1" y1="733.0" x2="206.9" y2="733.0" stroke="#000" stroke-width="2" stroke-linecap="round"/>
<line x1="448.3" y1="682.3" x2="448.3" y2="688.3" stroke="#000" stroke-width="2"/><line x1="429.8" y1="688.3" x2="466.8" y2="688.3" stroke="#000" stroke-width="2" stroke-linecap="round"/><line x1="433.3" y1="692.7" x2="463.3" y2="692.7" stroke="#000" stroke-width="2" stroke-linecap="round"/><line x1="436.4" y1="697.1" x2="460.2" y2="697.1" stroke="#000" stroke-width="2" stroke-linecap="round"/><line x1="439.7" y1="701.5" x2="456.9" y2="701.5" stroke="#000" stroke-width="2" stroke-linecap="round"/><line x1="443.2" y1="705.9" x2="453.4" y2="705.9" stroke="#000" stroke-width="2" stroke-linecap="round"/><line x1="446.4" y1="710.3" x2="450.2" y2="710.3" stroke="#000" stroke-width="2" stroke-linecap="round"/>
<line x1="92.0" y1="929.0" x2="92.0" y2="929.0" stroke="#000" stroke-width="2"/><line x1="73.5" y1="929.0" x2="110.5" y2="929.0" stroke="#000" stroke-width="2" stroke-linecap="round"/><line x1="77.0" y1="933.4" x2="107.0" y2="933.4" stroke="#000" stroke-width="2" stroke-linecap="round"/><line x1="80.2" y1="937.8" x2="103.8" y2="937.8" stroke="#000" stroke-width="2" stroke-linecap="round"/><line x1="83.4" y1="942.2" x2="100.6" y2="942.2" stroke="#000" stroke-width="2" stroke-linecap="round"/><line x1="86.8" y1="946.6" x2="97.2" y2="946.6" stroke="#000" stroke-width="2" stroke-linecap="round"/><line x1="90.1" y1="951.0" x2="93.9" y2="951.0" stroke="#000" stroke-width="2" stroke-linecap="round"/>
<line x1="1721.4" y1="765.0" x2="1721.4" y2="765.0" stroke="#000" stroke-width="2"/><line x1="1702.9" y1="765.0" x2="1739.9" y2="765.0" stroke="#000" stroke-width="2" stroke-linecap="round"/><line x1="1706.4" y1="769.4" x2="1736.4" y2="769.4" stroke="#000" stroke-width="2" stroke-linecap="round"/><line x1="1709.6" y1="773.8" x2="1733.2" y2="773.8" stroke="#000" stroke-width="2" stroke-linecap="round"/><line x1="1712.8" y1="778.2" x2="1730.0" y2="778.2" stroke="#000" stroke-width="2" stroke-linecap="round"/><line x1="1716.2" y1="782.6" x2="1726.6" y2="782.6" stroke="#000" stroke-width="2" stroke-linecap="round"/><line x1="1719.5" y1="787.0" x2="1723.3" y2="787.0" stroke="#000" stroke-width="2" stroke-linecap="round"/>
<circle cx="822" cy="848.5" r="7.5" fill="#000"/><circle cx="859.8" cy="848.5" r="7.5" fill="#000"/>
<g fill="none" stroke-linecap="butt"><path d="M1338 1034.7 C1365 1034.7 1385 1025.2 1404 1025.2 C1412 1025.2 1416 1028.4 1420 1029.4" stroke="#9A1FCC" stroke-width="6.8"/><path d="M1338 1063.0 C1365 1063.0 1385 1052.5 1404 1052.5 C1412 1052.5 1416 1055.7 1420 1056.7" stroke="#0E9A3A" stroke-width="6.4"/><path d="M1338 1071.9 C1365 1071.9 1385 1064.6 1404 1064.6 C1412 1064.6 1416 1068.3 1420 1069.3" stroke="#0E9A3A" stroke-width="6.4"/><path d="M1338 1091.9 C1365 1091.9 1385 1081.4 1404 1081.4 C1412 1081.4 1416 1082.5 1420 1083.5" stroke="#ff0000" stroke-width="6"/><path d="M1338 1091.9 C1365 1091.9 1385 1081.4 1404 1081.4 C1412 1081.4 1416 1082.5 1420 1083.5" stroke="#000" stroke-width="2"/><path d="M1338 1098.7 C1365 1098.7 1385 1093.0 1404 1093.0 C1412 1093.0 1416 1096.6 1420 1097.6" stroke="#ff0000" stroke-width="6"/><path d="M1338 1098.7 C1365 1098.7 1385 1093.0 1404 1093.0 C1412 1093.0 1416 1096.6 1420 1097.6" stroke="#000" stroke-width="2"/><path d="M1338 1120.7 C1365 1120.7 1385 1110.8 1404 1110.8 C1412 1110.8 1416 1112.9 1420 1113.9" stroke="#ff0000" stroke-width="6.8"/><path d="M1338 1129.7 C1365 1129.7 1385 1122.8 1404 1122.8 C1412 1122.8 1416 1125.5 1420 1126.5" stroke="#ff0000" stroke-width="6.8"/></g>
<text x="248.0" y="177.0" font-size="17" fill="#222" textLength="62.0" lengthAdjust="spacingAndGlyphs">HT Lead</text>
<text x="248.2" y="286.1" font-size="17" fill="#222" textLength="8.8" lengthAdjust="spacingAndGlyphs">B</text>
<text x="318.5" y="313.8" font-size="17" fill="#222" textLength="25.3" lengthAdjust="spacingAndGlyphs">CB-</text>
<text x="377.1" y="299.6" font-size="17" fill="#222" textLength="24.3" lengthAdjust="spacingAndGlyphs">SW</text>
<text x="402.0" y="299.6" font-size="17" fill="#E00000" textLength="8.5" lengthAdjust="spacingAndGlyphs">+</text>
<text x="709.0" y="269.0" font-size="17" fill="#222" textLength="26.0" lengthAdjust="spacingAndGlyphs">WR</text>
<text x="649.0" y="356.0" font-size="17" fill="#222" textLength="15.4" lengthAdjust="spacingAndGlyphs">W</text>
<text x="496.8" y="470.5" font-size="17" fill="#222" textLength="25.3" lengthAdjust="spacingAndGlyphs">WY</text>
<text x="625.8" y="510.7" font-size="17" fill="#222" textLength="26.6" lengthAdjust="spacingAndGlyphs">WR</text>
<text x="1192.6" y="268.9" font-size="17" fill="#222" textLength="17.4" lengthAdjust="spacingAndGlyphs">W</text>
<text x="1018.6" y="422.7" font-size="17" fill="#222" textLength="16.4" lengthAdjust="spacingAndGlyphs">W</text>
<text x="1456.6" y="410.6" font-size="17" fill="#222" textLength="21.9" lengthAdjust="spacingAndGlyphs">NY</text>
<text x="875.8" y="632.0" font-size="17" fill="#222" textLength="27.5" lengthAdjust="spacingAndGlyphs">NW</text>
<text x="584.8" y="649.7" font-size="17" fill="#222" textLength="12.2" lengthAdjust="spacingAndGlyphs">N</text>
<text x="540.7" y="688.0" font-size="17" fill="#222" textLength="12.3" lengthAdjust="spacingAndGlyphs">N</text>
<text x="530.8" y="794.5" font-size="17" fill="#222" textLength="26.1" lengthAdjust="spacingAndGlyphs">WR</text>
<text x="493.4" y="884.9" font-size="17" fill="#222" textLength="9.4" lengthAdjust="spacingAndGlyphs">B</text>
<text x="1317.0" y="766.5" font-size="17" fill="#222" textLength="28.0" lengthAdjust="spacingAndGlyphs">NW</text>
<text x="119.3" y="729.4" font-size="17" fill="#222" textLength="46.3" lengthAdjust="spacingAndGlyphs">-Earth</text>
<text x="383.3" y="733.3" font-size="17" fill="#222" textLength="46.0" lengthAdjust="spacingAndGlyphs">-Earth</text>
<text x="1729.5" y="801.6" font-size="17" fill="#222" textLength="45.5" lengthAdjust="spacingAndGlyphs">-Earth</text>
<text x="927.4" y="99.2" font-size="17" fill="#3D70FF" font-weight="bold" textLength="118.2" lengthAdjust="spacingAndGlyphs">Ignition switch</text>
<text x="520.9" y="226.9" font-size="17" fill="#3D70FF" font-weight="bold" textLength="117.8" lengthAdjust="spacingAndGlyphs">Ballast resistor</text>
<text x="1279.3" y="145.2" font-size="17" fill="#3D70FF" font-weight="bold" textLength="102.5" lengthAdjust="spacingAndGlyphs">Ignition light</text>
<text x="1646.3" y="183.7" font-size="17" fill="#3D70FF" font-weight="bold" textLength="105.4" lengthAdjust="spacingAndGlyphs">Key to wiring</text>
<text x="1669.7" y="210.5" font-size="17" fill="#3D70FF" font-weight="bold" textLength="58.6" lengthAdjust="spacingAndGlyphs">colours</text>
<text x="136.6" y="488.2" font-size="17" fill="#3D70FF" font-weight="bold" textLength="86.5" lengthAdjust="spacingAndGlyphs">Distributor</text>
<text x="322.6" y="475.5" font-size="17" fill="#3D70FF" font-weight="bold" textLength="95.0" lengthAdjust="spacingAndGlyphs">Ignition Coil</text>
<text x="496.7" y="597.4" font-size="17" fill="#3D70FF" font-weight="bold" textLength="129.3" lengthAdjust="spacingAndGlyphs">Starter Solenoid</text>
<text x="238.2" y="721.2" font-size="17" fill="#3D70FF" font-weight="bold" textLength="110.3" lengthAdjust="spacingAndGlyphs">Starter Motor</text>
<text x="812.0" y="733.0" font-size="17" fill="#3D70FF" font-weight="bold" textLength="74.8" lengthAdjust="spacingAndGlyphs">Ammeter</text>
<text x="1097.4" y="895.7" font-size="17" fill="#3D70FF" font-weight="bold" textLength="65.6" lengthAdjust="spacingAndGlyphs">Lighting</text>
<text x="1097.4" y="922.0" font-size="17" fill="#3D70FF" font-weight="bold" textLength="51.6" lengthAdjust="spacingAndGlyphs">switch</text>
<text x="136.4" y="1100.3" font-size="17" fill="#3D70FF" font-weight="bold" textLength="131.5" lengthAdjust="spacingAndGlyphs">Battery 12V 35Ah</text>
<text x="1129.5" y="1203.3" font-size="17" fill="#3D70FF" font-weight="bold" textLength="144.0" lengthAdjust="spacingAndGlyphs">Lucas 7FJFuse Box</text>
<text x="1464.5" y="825.0" font-size="17" fill="#C00000" font-weight="bold" textLength="187.5" lengthAdjust="spacingAndGlyphs">Lucas 15 ACR Alternator</text>
<text x="1436.5" y="1035.9" font-size="17" fill="#9900CC" font-weight="bold" textLength="234.5" lengthAdjust="spacingAndGlyphs">P Constant current auxiliaries</text>
<text x="1441.6" y="1069.5" font-size="17" fill="#009933" font-weight="bold" textLength="162.4" lengthAdjust="spacingAndGlyphs">G Ignition auxiliaries</text>
<text x="1441.6" y="1102.0" font-size="17" fill="#C00000" font-weight="bold" textLength="9.9" lengthAdjust="spacingAndGlyphs">R</text>
<text x="1451.5" y="1102.0" font-size="17" fill="#000" font-weight="bold" textLength="10.5" lengthAdjust="spacingAndGlyphs">B</text>
<text x="1441.6" y="1134.0" font-size="17" fill="#C00000" font-weight="bold" textLength="66.3" lengthAdjust="spacingAndGlyphs">R Lamps</text>
<rect x="1623" y="226.5" width="152" height="220.5" fill="#fff" stroke="#999" stroke-width="1.6"/>
<text x="1665.3" y="262.4" font-size="17" fill="#000" font-weight="bold" textLength="69.7" lengthAdjust="spacingAndGlyphs">B = Black</text>
<text x="1662.0" y="289.2" font-size="17" fill="#009933" font-weight="bold" textLength="76.0" lengthAdjust="spacingAndGlyphs">G = Green</text>
<text x="1658.7" y="316.0" font-size="17" fill="#B9933A" font-weight="bold" textLength="82.6" lengthAdjust="spacingAndGlyphs">N = Brown</text>
<text x="1660.3" y="342.7" font-size="17" fill="#9900CC" font-weight="bold" textLength="79.4" lengthAdjust="spacingAndGlyphs">P = Purple</text>
<text x="1670.4" y="368.8" font-size="17" fill="#C00000" font-weight="bold" textLength="58.6" lengthAdjust="spacingAndGlyphs">R = Red</text>
<text x="1658.7" y="396.3" font-size="17" fill="#000" font-weight="bold" textLength="82.0" lengthAdjust="spacingAndGlyphs">W = White</text>
<text x="1658.7" y="423.0" font-size="17" fill="#B9933A" font-weight="bold" textLength="82.0" lengthAdjust="spacingAndGlyphs">Y = Yellow</text>
</svg>
</body></html>
